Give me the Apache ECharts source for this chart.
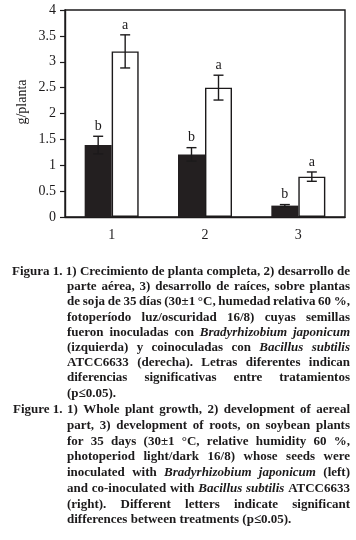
<!DOCTYPE html>
<html>
<head>
<meta charset="utf-8">
<script src="https://cdn.jsdelivr.net/npm/echarts@6/dist/echarts.min.js"></script>
<style>
  html, body { margin: 0; padding: 0; background: #fff; }
  #chart { width: 356px; height: 540px; }
</style>
</head>
<body>
<div id="chart"></div>
<script>
const categories = ["1", "2", "3"];
const inoculated = [1.39, 1.21, 0.22];
const inoculatedErr = [0.17, 0.13, 0.02];
const inoculatedLetters = ["b", "b", "b"];
const coinoculated = [3.2, 2.5, 0.78];
const coinoculatedErr = [0.32, 0.24, 0.09];
const coinoculatedLetters = ["a", "a", "a"];
const yTitle = "g/planta";

const captionEs = [
  "Figura 1. 1) Crecimiento de planta completa, 2) desarrollo de",
  "parte aérea, 3) desarrollo de raíces, sobre plantas",
  "de soja de 35 días (30±1 °C, humedad relativa 60 %,",
  "fotoperíodo luz/oscuridad 16/8) cuyas semillas",
  "fueron inoculadas con *Bradyrhizobium japonicum*",
  "(izquierda) y coinoculadas con *Bacillus subtilis*",
  "ATCC6633 (derecha). Letras diferentes indican",
  "diferencias significativas entre tratamientos",
  "(p≤0.05)."
];
const captionEnHead = "Figure 1.";
const captionEn = [
  "1) Whole plant growth, 2) development of aereal",
  "part, 3) development of roots, on soybean plants",
  "for 35 days (30±1 °C, relative humidity 60 %,",
  "photoperiod light/dark 16/8) whose seeds were",
  "inoculated with *Bradyrhizobium japonicum* (left)",
  "and co-inoculated with *Bacillus subtilis* ATCC6633",
  "(right). Different letters indicate significant",
  "differences between treatments (p≤0.05)."
];

const ink = "#1c1a1b";
const serif = "'Liberation Serif', 'DejaVu Serif', serif";
const chart = echarts.init(document.getElementById("chart"));

// caption layout: justified lines, one text element per word
const ctx = document.createElement("canvas").getContext("2d");
function fontFor(italic) {
  return (italic ? "italic " : "") + "bold 13px " + serif;
}
function captionLine(str, x0, x1, y, justify) {
  let italic = false;
  const words = str.split(" ").map(function (w) {
    if (w.startsWith("*")) italic = true;
    const it = italic;
    if (w.endsWith("*")) italic = false;
    return { t: w.replace(/\*/g, ""), it: it };
  });
  const widths = words.map(function (w) {
    ctx.font = fontFor(w.it);
    return ctx.measureText(w.t).width;
  });
  ctx.font = fontFor(false);
  const space = ctx.measureText(" ").width;
  const total = widths.reduce(function (a, b) { return a + b; }, 0);
  let gap = space;
  let scale = 1;
  if (justify && words.length > 1) {
    gap = (x1 - x0 - total) / (words.length - 1);
    if (gap < space * 0.7) {
      gap = space * 0.7;
      scale = (x1 - x0) / (total + gap * (words.length - 1));
    }
  }
  let cx = 0;
  const children = words.map(function (w, i) {
    const el = {
      type: "text",
      x: cx,
      style: { text: w.t, font: fontFor(w.it), fill: ink, verticalAlign: "middle" }
    };
    cx += widths[i] + gap;
    return el;
  });
  return { type: "group", x: x0, y: y, scaleX: scale, children: children };
}

const graphics = [{
  type: "text", x: 22, y: 102, rotation: Math.PI / 2,
  style: { text: yTitle, font: "14px " + serif, fill: ink, align: "center", verticalAlign: "middle" }
}];
captionEs.forEach(function (line, i) {
  const x0 = i === 0 ? 12 : 67;
  graphics.push(captionLine(line, x0, 350, 271.7 + i * 15.2, i < captionEs.length - 1));
});
graphics.push({
  type: "text", x: 13, y: 410,
  style: { text: captionEnHead, font: fontFor(false), fill: ink, verticalAlign: "middle" }
});
captionEn.forEach(function (line, i) {
  graphics.push(captionLine(line, 67, 350, 410 + i * 15.7, i < captionEn.length - 1));
});

function errorSeries(values, errs, letters, offset) {
  return {
    type: "custom",
    z: 10,
    data: values.map(function (v, i) { return [i, v, errs[i]]; }),
    renderItem: function (params, api) {
      const i = api.value(0), v = api.value(1), e = api.value(2);
      const top = api.coord([i, v + e]);
      const bot = api.coord([i, v - e]);
      const x = top[0] + offset;
      const st = { stroke: ink, lineWidth: 1.4 };
      return {
        type: "group",
        children: [
          { type: "line", shape: { x1: x, y1: top[1], x2: x, y2: bot[1] }, style: st },
          { type: "line", shape: { x1: x - 5, y1: top[1], x2: x + 5, y2: top[1] }, style: st },
          { type: "line", shape: { x1: x - 5, y1: bot[1], x2: x + 5, y2: bot[1] }, style: st },
          {
            type: "text",
            style: {
              text: letters[params.dataIndex], x: x, y: top[1] - 3,
              align: "center", verticalAlign: "bottom",
              font: "14px " + serif, fill: ink
            }
          }
        ]
      };
    }
  };
}

const option = {
  animation: false,
  grid: {
    left: 65, right: 11, top: 10, bottom: 323,
    show: true, borderColor: ink, borderWidth: 1.4, backgroundColor: "transparent"
  },
  xAxis: {
    type: "category",
    data: categories,
    axisLine: { lineStyle: { color: ink, width: 1.4 } },
    axisTick: { show: false },
    axisLabel: { color: ink, fontFamily: serif, fontSize: 14, margin: 11 }
  },
  yAxis: {
    type: "value",
    min: 0, max: 4, interval: 0.5,
    axisLine: { show: true, lineStyle: { color: ink, width: 1.4 } },
    axisTick: { show: true, length: 5, lineStyle: { color: ink, width: 1.2 } },
    axisLabel: { color: ink, fontFamily: serif, fontSize: 14, margin: 9 },
    splitLine: { show: false }
  },
  series: [
    {
      type: "bar", data: inoculated, barWidth: 27, barGap: "0%",
      itemStyle: { color: "#231f20" }
    },
    {
      type: "bar", data: coinoculated, barWidth: 27, barGap: "0%",
      itemStyle: { color: "#fff", borderColor: ink, borderWidth: 1.4 }
    },
    errorSeries(inoculated, inoculatedErr, inoculatedLetters, -13.5),
    errorSeries(coinoculated, coinoculatedErr, coinoculatedLetters, 13.5)
  ],
  graphic: graphics
};

chart.setOption(option);
window.addEventListener("resize", function () { chart.resize(); });
</script>
</body>
</html>
